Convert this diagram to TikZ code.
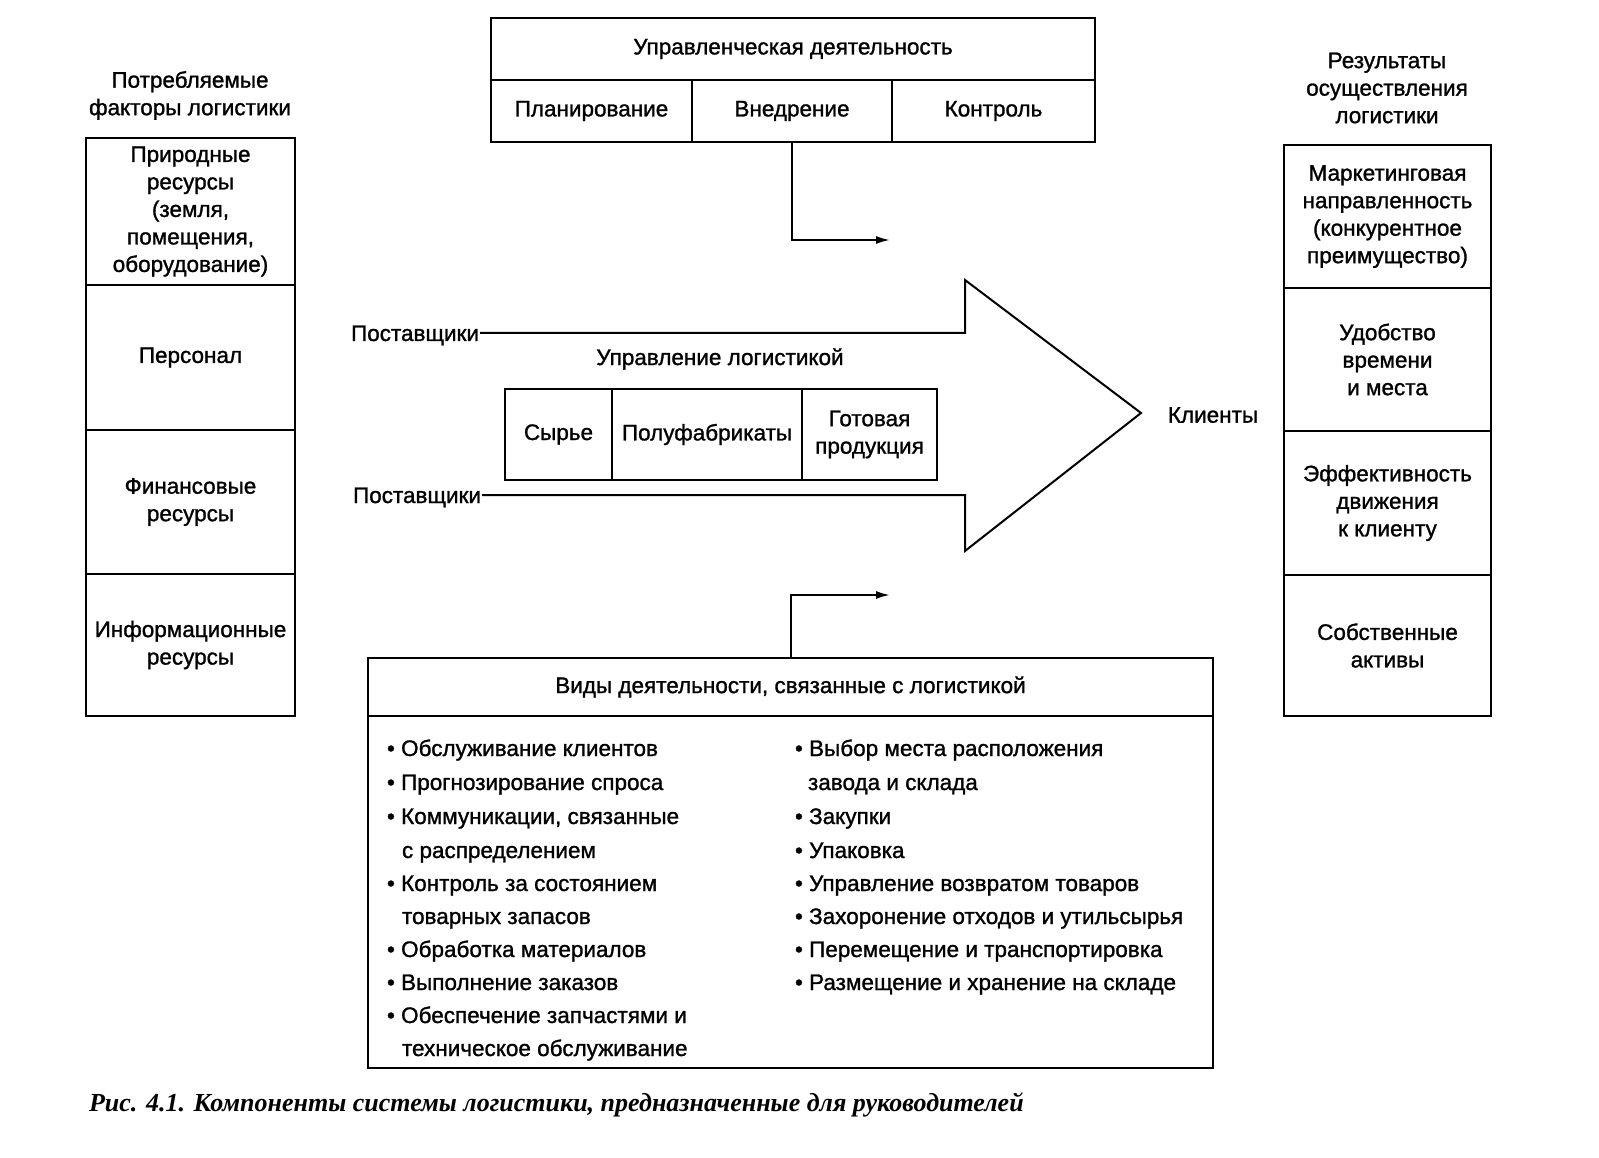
\documentclass[tikz,border=0pt]{standalone}
\usepackage{fontspec}
\setmainfont{Liberation Sans}[FakeBold=1.2]
\newfontfamily\capfont{Liberation Serif}
\usetikzlibrary{arrows.meta}
\begin{document}
\begin{tikzpicture}[x=1pt,y=-1pt,line width=2pt,
  cell/.style={draw,line width=2pt,inner sep=0pt,align=center,font=\fontsize{22.5}{27.5}\selectfont},
  lbl/.style={inner sep=0pt,align=center,font=\fontsize{22.5}{27.5}\selectfont},
  item/.style={inner sep=0pt,anchor=base west,font=\fontsize{22.5}{27}\selectfont},
  sup/.style={inner sep=0pt,anchor=east,text height=16pt,text depth=0pt,font=\fontsize{22.5}{27}\selectfont},
  conn/.style={line width=2pt,-{Latex[length=14pt,width=8pt]}}]
\useasboundingbox (0,0) rectangle (1599,1158);

% top box
\node[cell,minimum width=604pt,minimum height=62pt] (uprd) at (793,49) {Управленческая деятельность};
\node[cell,minimum width=201pt,minimum height=62pt] (plan) at (591.5,111) {Планирование};
\node[cell,minimum width=200pt,minimum height=62pt] (vn) at (792,111) {Внедрение};
\node[cell,minimum width=203pt,minimum height=62pt] (kontr) at (993.5,111) {Контроль};

% left column
\node[lbl] (lhead) at (190,95.5) {Потребляемые\\факторы логистики};
\node[cell,minimum width=209pt,minimum height=147pt] (l1) at (190.5,211.5) {Природные\\ресурсы\\(земля,\\помещения,\\оборудование)};
\node[cell,minimum width=209pt,minimum height=145pt] (l2) at (190.5,357.5) {Персонал};
\node[cell,minimum width=209pt,minimum height=144pt] (l3) at (190.5,502) {Финансовые\\ресурсы};
\node[cell,minimum width=209pt,minimum height=142pt] (l4) at (190.5,645) {Информационные\\ресурсы};

% right column
\node[lbl] (rhead) at (1387,88) {Результаты\\осуществления\\логистики};
\node[cell,minimum width=207pt,minimum height=143pt] (r1) at (1387.5,216.5) {Маркетинговая\\направленность\\(конкурентное\\преимущество)};
\node[cell,minimum width=207pt,minimum height=143pt] (r2) at (1387.5,359.5) {Удобство\\времени\\и места};
\node[cell,minimum width=207pt,minimum height=144pt] (r3) at (1387.5,503) {Эффективность\\движения\\к клиенту};
\node[cell,minimum width=207pt,minimum height=141pt] (r4) at (1387.5,645.5) {Собственные\\активы};

% big arrow
\node[sup] (sup1) at (480,333) {Поставщики};
\node[sup] (sup2) at (482,495) {Поставщики};
\coordinate (p1) at (965,333);
\coordinate (p2) at (965,280);
\coordinate (tip) at (1141,413);
\coordinate (p3) at (965,551);
\coordinate (p4) at (965,495);
\draw[line width=2pt,line join=miter] (sup1.east) -- (p1) -- (p2) -- (tip) -- (p3) -- (p4) -- (sup2.east);
\node[lbl] (ul) at (720,359) {Управление логистикой};
\node[cell,minimum width=107pt,minimum height=91pt] (s1) at (558.5,434.5) {Сырье};
\node[cell,minimum width=190pt,minimum height=91pt] (s2) at (707,434.5) {Полуфабрикаты};
\node[cell,minimum width=135pt,minimum height=91pt] (s3) at (869.5,434.5) {Готовая\\продукция};
\node[lbl] (kl) at (1213,415) {Клиенты};

% connectors
\coordinate (a1) at (890,240);
\draw[conn] (vn.south) |- (a1);

% bottom box
\node[cell,minimum width=845pt,minimum height=58pt] (vidy) at (790.5,687) {Виды деятельности, связанные с логистикой};
\node[cell,minimum width=845pt,minimum height=352pt] (body) at (790.5,892) {};
\coordinate (a2) at (890,595);
\draw[conn] (vidy.north) |- (a2);

\node[item] (i1) at (386,756) {• Обслуживание клиентов};
\node[item] (i2) at (386,790) {• Прогнозирование спроса};
\node[item] (i3) at (386,824) {• Коммуникации, связанные};
\node[item] (i4) at (401,858) {с распределением};
\node[item] (i5) at (386,891) {• Контроль за состоянием};
\node[item] (i6) at (401,924) {товарных запасов};
\node[item] (i7) at (386,957) {• Обработка материалов};
\node[item] (i8) at (386,990) {• Выполнение заказов};
\node[item] (i9) at (386,1023) {• Обеспечение запчастями и};
\node[item] (i10) at (401,1056) {техническое обслуживание};

\node[item] (j1) at (794,756) {• Выбор места расположения};
\node[item] (j2) at (807,790) {завода и склада};
\node[item] (j3) at (794,824) {• Закупки};
\node[item] (j4) at (794,858) {• Упаковка};
\node[item] (j5) at (794,891) {• Управление возвратом товаров};
\node[item] (j6) at (794,924) {• Захоронение отходов и утильсырья};
\node[item] (j7) at (794,957) {• Перемещение и транспортировка};
\node[item] (j8) at (794,990) {• Размещение и хранение на складе};

% caption
\node[inner sep=0pt,anchor=base west,font=\capfont\bfseries\itshape\fontsize{26}{30}\selectfont] (cap) at (88,1111) {Рис. 4.1. Компоненты системы логистики, предназначенные для руководителей};
\end{tikzpicture}
\end{document}
